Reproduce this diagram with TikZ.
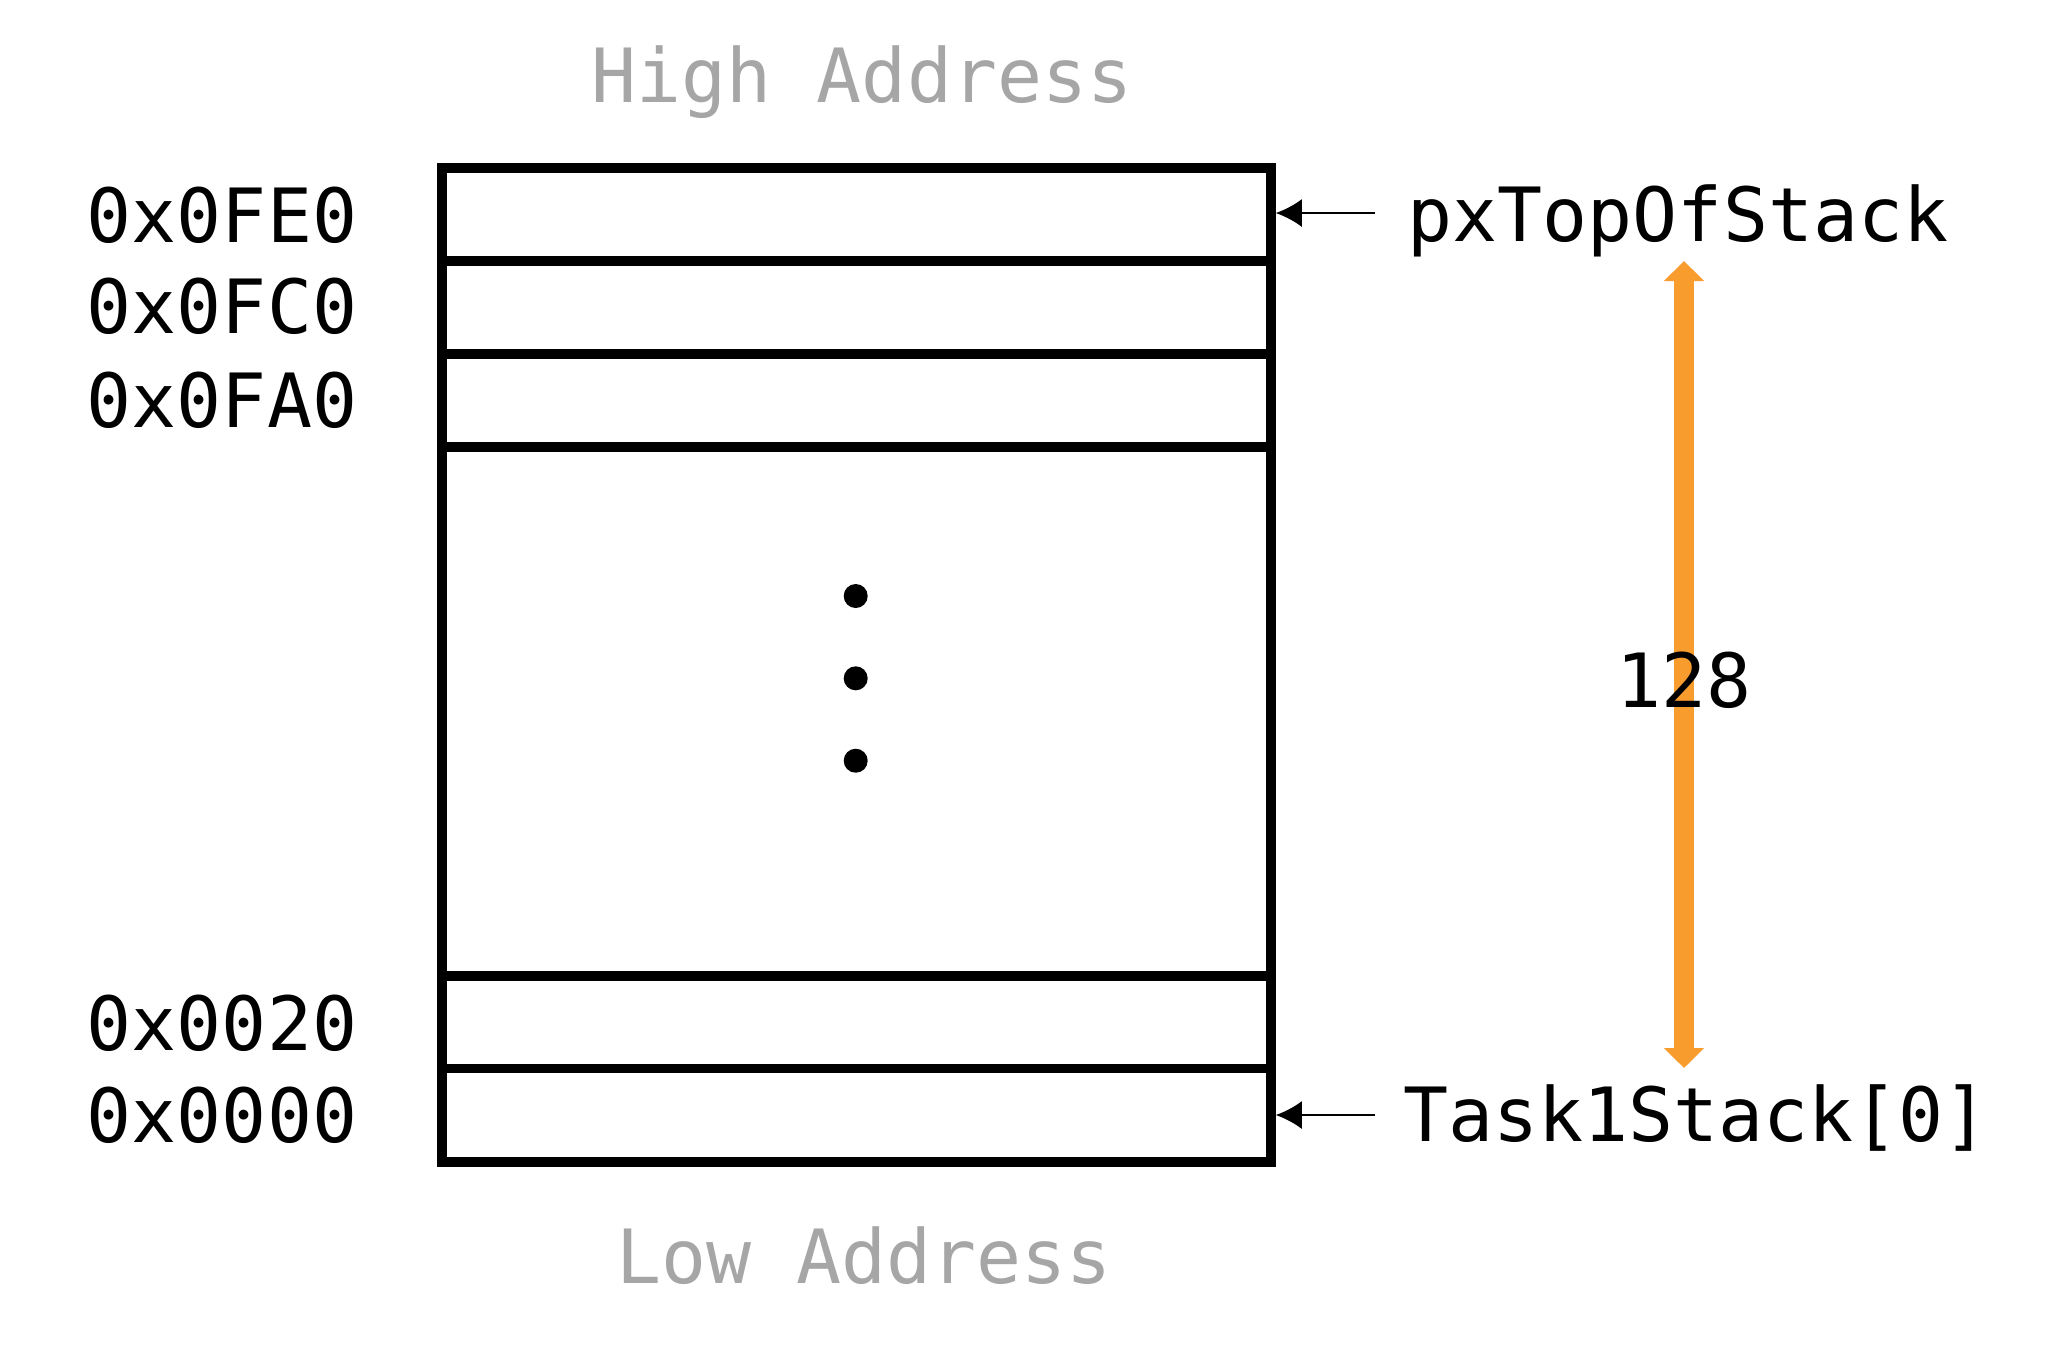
\documentclass[tikz,border=0pt]{standalone}
\usepackage{fontspec}
\setmonofont{DejaVu Sans Mono}
\usetikzlibrary{arrows.meta}
\definecolor{addrgray}{HTML}{A6A6A6}
\definecolor{sizeorange}{HTML}{F89C2E}
\begin{document}
\begin{tikzpicture}[x=0.25pt,y=-0.25pt,
  cell/.style={draw, line width=2.375pt, minimum width=207.25pt, inner sep=0pt, anchor=center},
  lbl/.style={font=\ttfamily\fontsize{18.7pt}{22pt}\selectfont, inner sep=0pt, anchor=base},
  graylbl/.style={lbl, text=addrgray},
  ptr/.style={line width=0.6pt, -{Latex[length=6.5pt,width=7pt]}},
  sizearrow/.style={sizeorange, line width=5pt, {Triangle[length=5pt,width=9.75pt]}-{Triangle[length=5pt,width=9.75pt]}}
]
\fill[white] (0,0) rectangle (2048,1354);
\useasboundingbox (0,0) rectangle (2048,1354);

% stack cells
\node[cell, minimum height=23.25pt]  (r1) at (856.5,214.5) {};
\node[cell, minimum height=23.25pt]  (r2) at (856.5,307.5) {};
\node[cell, minimum height=23.25pt]  (r3) at (856.5,400.5) {};
\node[cell, minimum height=132.25pt] (rm) at (856.5,711.5) {};
\node[cell, minimum height=23.125pt] (r5) at (856.5,1022.25) {};
\node[cell, minimum height=23.375pt] (r6) at (856.5,1115.25) {};

% ellipsis dots
\fill (855.7,596) circle [radius=3pt];
\fill (855.7,678.3) circle [radius=3pt];
\fill (855.7,760.7) circle [radius=3pt];

% address labels
\node[lbl] (a1) at (222,242.3) {0x0FE0};
\node[lbl] (a2) at (222,333) {0x0FC0};
\node[lbl] (a3) at (222,427) {0x0FA0};
\node[lbl] (a5) at (222,1050) {0x0020};
\node[lbl] (a6) at (222,1142) {0x0000};

% high / low
\node[graylbl] (high) at (862,102) {High Address};
\node[graylbl] (low) at (864,1283) {Low Address};

% pointers
\node[lbl] (top) at (1678,241.7) {pxTopOfStack};
\node[lbl] (bot) at (1696,1141.7) {Task1Stack[0]};
\coordinate (ptop) at (1375,213);
\coordinate (pbot) at (1375,1115);
\draw[ptr] (ptop) -- (ptop -| r1.east);
\draw[ptr] (pbot) -- (pbot -| r6.east);

% size arrow
\coordinate (st) at (1684,261);
\coordinate (sb) at (1684,1068);
\draw[sizearrow] (st) -- (sb);
\node[lbl] (size) at (1684,707) {128};
\end{tikzpicture}
\end{document}
